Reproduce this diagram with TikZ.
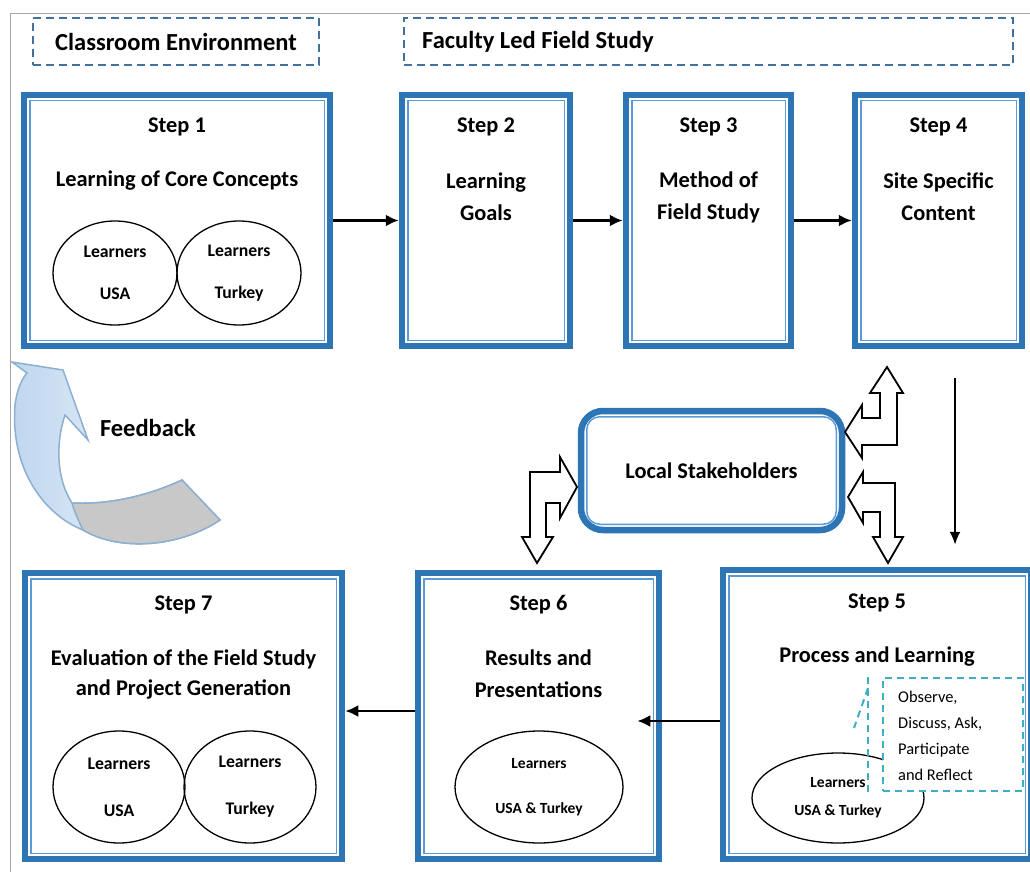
\documentclass[tikz,border=0pt]{standalone}
\usepackage{fontspec}
\setmainfont{Carlito}
\usepackage{tikz}
\usetikzlibrary{arrows.meta,calc,shapes.geometric,positioning}

\definecolor{boxblue}{RGB}{46,117,182}
\definecolor{lineblue}{RGB}{91,155,213}
\definecolor{headblue}{RGB}{65,113,156}
\definecolor{calloutteal}{RGB}{60,175,195}
\definecolor{fbborder}{RGB}{140,175,210}
\definecolor{fbfill}{RGB}{190,214,238}
\definecolor{fbgray}{RGB}{200,200,200}

\begin{document}
\begin{tikzpicture}[x=1pt,y=-1pt,>=Latex,
  stepbox/.style={draw=boxblue,line width=6.5pt,inner sep=0pt,fill=white},
  innerline/.style={draw=lineblue,line width=1.5pt},
  headbox/.style={draw=headblue,line width=2pt,dash pattern=on 8pt off 5pt,minimum height=47pt},
  headfont/.style={font=\bfseries\fontsize{24.5}{28}\selectfont},
  steptitle/.style={font=\bfseries\fontsize{22.4}{27}\selectfont,inner sep=0pt},
  stepbody/.style={font=\bfseries\fontsize{22.4}{32}\selectfont,align=center,inner sep=0pt},
  learner/.style={ellipse,draw,line width=1.3pt,inner sep=0pt,align=center},
  flow/.style={->,line width=2.5pt,>={Latex[length=13pt,width=12pt]}},
  blockarrow/.style={draw=black,fill=white,line width=1.8pt,line join=miter},
  calloutline/.style={draw=calloutteal,line width=2pt,dash pattern=on 7pt off 5pt}]
  \useasboundingbox (0,0) rectangle (1030,872);
  \draw[gray!70,line width=0.8pt] (10,872) -- (10,13) -- (1030,13);

  % headers
  \node[headbox,headfont,minimum width=286pt] (ce) at (176,41.5) {Classroom Environment};
  \node[headbox,minimum width=609pt] (fl) at (708.5,41.5) {};
  \node[headfont,anchor=west,inner sep=0pt] (flt) at (422,41.5) {Faculty Led Field Study};

  % step boxes
  \node[stepbox,minimum width=306pt,minimum height=251pt] (s1) at (177,220.5) {};
  \node[stepbox,minimum width=168pt,minimum height=251pt] (s2) at (486,220.5) {};
  \node[stepbox,minimum width=165pt,minimum height=251pt] (s3) at (708.5,220.5) {};
  \node[stepbox,minimum width=167pt,minimum height=251pt] (s4) at (938.5,220.5) {};
  \node[stepbox,minimum width=308pt,minimum height=289pt] (s5) at (877,714.5) {};
  \node[stepbox,minimum width=241pt,minimum height=286pt] (s6) at (538.5,716) {};
  \node[stepbox,minimum width=317pt,minimum height=286pt] (s7) at (183.5,716) {};
  \foreach \n in {s1,s2,s3,s4,s5,s6,s7}
    \draw[innerline] ([xshift=9pt,yshift=-9pt]\n.north west) rectangle ([xshift=-9pt,yshift=9pt]\n.south east);

  % step texts
  \node[steptitle] (t1) at (177,127) {Step 1};
  \node[stepbody] (b1) at (177,181) {Learning of Core Concepts};
  \node[learner,minimum width=124pt,minimum height=104pt,font=\bfseries\fontsize{17.7}{42}\selectfont] (u1) at (115,273) {Learners\\USA};
  \node[learner,minimum width=124pt,minimum height=104pt,font=\bfseries\fontsize{17.7}{42}\selectfont] (k1) at (239,273) {Learners\\Turkey};

  \node[steptitle] (t2) at (486,127) {Step 2};
  \node[stepbody] (b2) at (486,197) {Learning\\Goals};
  \node[steptitle] (t3) at (708.5,127) {Step 3};
  \node[stepbody] (b3) at (708.5,197) {Method of\\Field Study};
  \node[steptitle] (t4) at (938.5,127) {Step 4};
  \node[stepbody] (b4) at (938.5,197) {Site Specific\\Content};

  \node[steptitle] (t5) at (877,603) {Step 5};
  \node[stepbody] (b5) at (877,657) {Process and Learning};
  \node[learner,minimum width=172pt,minimum height=90pt,font=\bfseries\fontsize{15.5}{28}\selectfont] (e5) at (838,798) {Learners\\USA \& Turkey};

  \node[steptitle] (t6) at (538.5,605) {Step 6};
  \node[stepbody] (b6) at (538.5,674) {Results and\\Presentations};
  \node[learner,minimum width=168pt,minimum height=112pt,font=\bfseries\fontsize{15.5}{45}\selectfont] (e6) at (539,787) {Learners\\USA \& Turkey};

  \node[steptitle] (t7) at (183.5,605) {Step 7};
  \node[stepbody,font=\bfseries\fontsize{22.4}{30}\selectfont] (b7) at (183.5,675) {Evaluation of the Field Study\\and Project Generation};
  \node[learner,minimum width=132pt,minimum height=112pt,font=\bfseries\fontsize{17.7}{47}\selectfont] (u7) at (119,787) {Learners\\USA};
  \node[learner,minimum width=132pt,minimum height=112pt,font=\bfseries\fontsize{17.7}{47}\selectfont] (k7) at (250,787) {Learners\\Turkey};

  % callout in step 5
  \node[calloutline,fill=white,minimum width=140pt,minimum height=113pt,anchor=north west] (cb) at (882,677) {};
  \node[anchor=west,align=left,inner sep=0pt,font=\fontsize{16.4}{26}\selectfont] (ct) at (898,736)
    {Observe,\\Discuss, Ask,\\Participate\\and Reflect};
  \draw[calloutline] ([xshift=-14pt]cb.north west) -- ([xshift=-14pt]cb.south west);
  \draw[calloutline] ([xshift=-14pt,yshift=-11pt]cb.north west) -- ++(-14,40);

  % local stakeholders
  \node[stepbox,rounded corners=22pt,minimum width=261pt,minimum height=119pt,
    font=\bfseries\fontsize{22.4}{27}\selectfont] (ls) at (711.5,470.5) {Local Stakeholders};
  \draw[innerline,rounded corners=13pt] ([xshift=9pt,yshift=-9pt]ls.north west) rectangle ([xshift=-9pt,yshift=9pt]ls.south east);

  % flow arrows
  \draw[flow] (s1) -- (s2);
  \draw[flow] (s2) -- (s3);
  \draw[flow] (s3) -- (s4);
  \draw[->,line width=2pt,>={Latex[length=13pt,width=11pt]}] ([xshift=16.5pt,yshift=-29pt]s4.south) -- ([xshift=78pt,yshift=22pt]s5.north);
  \draw[flow] ([yshift=-6.5pt]s5.west) -- ([xshift=-25pt,yshift=-5pt]s6.east);
  \draw[flow] ([yshift=5pt]s6.west) -- ([yshift=5pt]s7.east);

  % block arrows to stakeholders
  \draw[blockarrow] (887,367) -- (903,393) -- (897,393) -- (897,445) -- (862,445) -- (862,458)
    -- (845,432) -- (862,405) -- (862,418) -- (880,418) -- (880,393) -- (870,393) -- cycle;
  \draw[blockarrow] (848,497) -- (863,472) -- (863,483) -- (895,483) -- (895,537) -- (903,537)
    -- (888,563) -- (873,537) -- (880,537) -- (880,512) -- (863,512) -- (863,523) -- cycle;
  \draw[blockarrow] (577,487) -- (560,518) -- (560,503) -- (546,503) -- (546,537) -- (553,537)
    -- (537,563) -- (522,537) -- (530,537) -- (530,472) -- (560,472) -- (560,457) -- cycle;

  % feedback arrow
  \draw[fbborder,line width=1.5pt,left color=fbfill,right color=white]
    (12,362) -- (63,370) -- (88,440) -- (65,415)
    .. controls (55,445) and (57,480) .. (72,503)
    .. controls (110,505) and (150,495) .. (182,480)
    -- (220,520)
    .. controls (180,547) and (120,552) .. (83,530)
    .. controls (45,515) and (10,470) .. (15,405)
    .. controls (17,390) and (21,380) .. (27,373) -- cycle;
  \fill[fbgray,draw=fbborder,line width=1.5pt]
    (72,503) .. controls (110,505) and (150,495) .. (182,480)
    -- (220,520)
    .. controls (180,547) and (120,552) .. (83,530)
    .. controls (78,520) and (74,510) .. (72,503) -- cycle;
  \node[headfont] (fb) at (148,428) {Feedback};
\end{tikzpicture}
\end{document}
